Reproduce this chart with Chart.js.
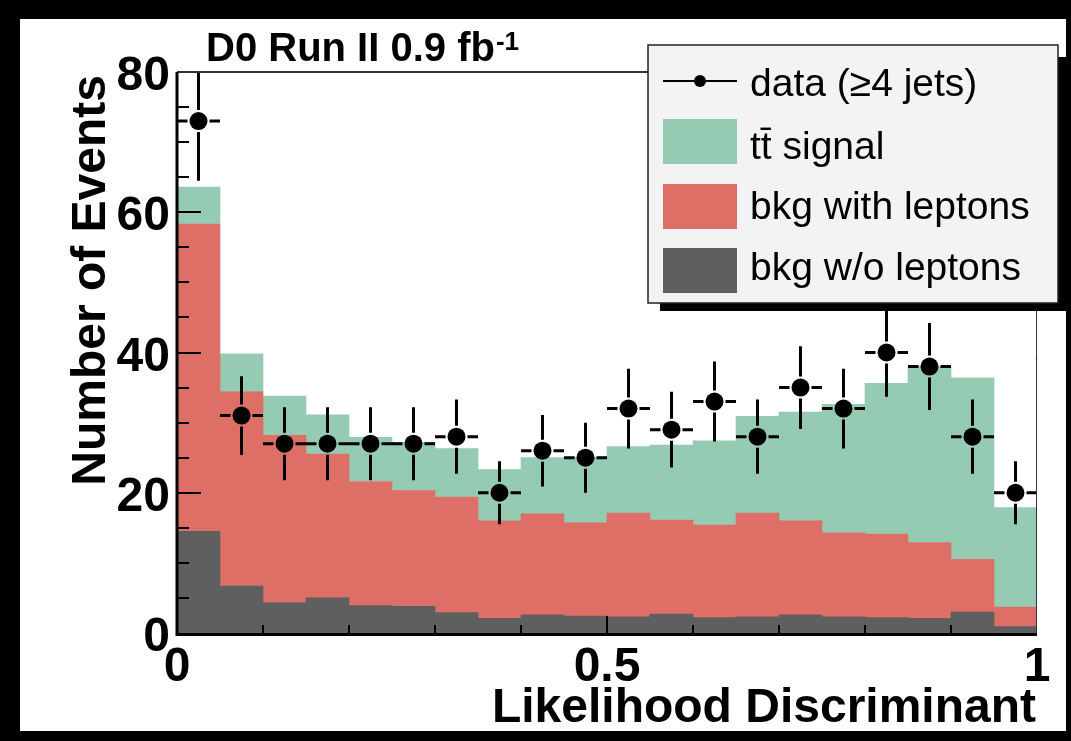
<!DOCTYPE html>
<html>
<head>
<meta charset="utf-8">
<script src="https://cdn.jsdelivr.net/npm/chart.js@4"></script>
<style>
  html, body { margin: 0; padding: 0; background: #000; }
  #frame { position: absolute; left: 20px; top: 19px; width: 1046px; height: 712px; background: #fff; }
</style>
</head>
<body>
<div id="frame"><canvas id="myChart"></canvas></div>
<script>
// bin centres of the likelihood discriminant (20 bins of 0.05)
const binCenters = [0.025, 0.075, 0.125, 0.175, 0.225, 0.275, 0.325, 0.375, 0.425, 0.475,
                    0.525, 0.575, 0.625, 0.675, 0.725, 0.775, 0.825, 0.875, 0.925, 0.975];
const dataCounts = [73, 31, 27, 27, 27, 27, 28, 20, 26, 25, 32, 29, 33, 28, 35, 32, 40, 38, 28, 20];
const dataErr = [8.5, 5.6, 5.2, 5.2, 5.2, 5.2, 5.3, 4.5, 5.1, 5.0, 5.7, 5.4, 5.7, 5.3, 5.9, 5.7, 6.3, 6.2, 5.3, 4.5];
const bkgNoLep = [14.5, 6.7, 4.3, 5.0, 3.9, 3.8, 2.9, 2.1, 2.6, 2.4, 2.3, 2.7, 2.2, 2.3, 2.6, 2.3, 2.2, 2.1, 3.0, 0.9];
const bkgLep = [43.8, 27.7, 23.9, 20.5, 17.7, 16.5, 16.5, 13.9, 14.4, 13.3, 14.8, 13.4, 13.2, 14.8, 13.4, 12.0, 11.9, 10.8, 7.5, 2.8];
const ttSignal = [5.3, 5.4, 5.6, 5.6, 6.3, 6.9, 6.9, 7.3, 8.0, 9.4, 9.5, 10.7, 12.0, 13.8, 15.5, 18.3, 21.5, 25.1, 25.9, 14.2];
const xTickLabels = {0: '0', 0.5: '0.5', 1: '1'};

const labels = ['data (\u22654 jets)', 'tt\u0304 signal', 'bkg with leptons', 'bkg w/o leptons'];
const colors = ['#000000', '#96cbb3', '#dd6f67', '#5f5f5f'];

const FONT = "'Liberation Sans', Arial, Helvetica, sans-serif";

function pts(vals) {
  return vals.map(function(v, i) { return {x: binCenters[i], y: v}; });
}

// ROOT-like frame, ticks, error bars, titles and legend
const rootStyle = {
  id: 'rootStyle',
  afterDatasetsDraw(chart) {
    const ctx = chart.ctx, a = chart.chartArea, x = chart.scales.x, y = chart.scales.y;
    const meta = chart.getDatasetMeta(0);
    const half = (x.getPixelForValue(0.05) - x.getPixelForValue(0)) / 2;
    const gap = 11;

    ctx.save();
    ctx.beginPath();
    ctx.rect(a.left, a.top, a.right - a.left, a.bottom - a.top);
    ctx.clip();
    ctx.strokeStyle = '#000';
    ctx.lineWidth = 3;
    meta.data.forEach(function(pt, i) {
      const px = pt.x, py = pt.y;
      const yHi = y.getPixelForValue(dataCounts[i] + dataErr[i]);
      const yLo = y.getPixelForValue(dataCounts[i] - dataErr[i]);
      ctx.beginPath();
      ctx.moveTo(px, yHi); ctx.lineTo(px, py - gap);
      ctx.moveTo(px, py + gap); ctx.lineTo(px, yLo);
      ctx.moveTo(px - half, py); ctx.lineTo(px - gap, py);
      ctx.moveTo(px + gap, py); ctx.lineTo(px + half, py);
      ctx.stroke();
    });
    ctx.restore();

    ctx.save();
    // frame
    ctx.strokeStyle = '#333';
    ctx.lineWidth = 2;
    ctx.beginPath(); ctx.moveTo(a.left, a.top); ctx.lineTo(a.right, a.top); ctx.stroke();
    ctx.lineWidth = 1;
    ctx.beginPath(); ctx.moveTo(a.right - 0.5, a.top); ctx.lineTo(a.right - 0.5, a.bottom); ctx.stroke();
    ctx.strokeStyle = '#000';
    ctx.lineWidth = 3;
    ctx.beginPath(); ctx.moveTo(a.left, a.top); ctx.lineTo(a.left, a.bottom + 1.5); ctx.lineTo(a.right, a.bottom + 1.5); ctx.stroke();

    // ticks
    ctx.lineWidth = 2;
    ctx.beginPath();
    for (let v = 5; v < 80; v += 5) {
      const py = Math.round(y.getPixelForValue(v));
      const len = (v % 20 === 0) ? 24 : 12;
      ctx.moveTo(a.left, py); ctx.lineTo(a.left + len, py);
    }
    for (let k = 1; k < 10; k++) {
      const px = Math.round(x.getPixelForValue(k / 10));
      const len = (k === 5) ? 17 : 8;
      ctx.moveTo(px, a.bottom); ctx.lineTo(px, a.bottom - len);
    }
    ctx.stroke();
    ctx.restore();
  },
  afterDraw(chart) {
    const ctx = chart.ctx, a = chart.chartArea;
    ctx.save();
    ctx.fillStyle = '#000';

    // axis titles
    ctx.font = 'bold 48px ' + FONT;
    ctx.textAlign = 'right';
    ctx.textBaseline = 'alphabetic';
    ctx.fillText('Likelihood Discriminant', a.right - 1, 703);
    ctx.save();
    ctx.translate(85, a.top + 3);
    ctx.rotate(-Math.PI / 2);
    ctx.fillText('Number of Events', 0, 0);
    ctx.restore();

    // title
    ctx.textAlign = 'left';
    ctx.font = 'bold 40px ' + FONT;
    const t = 'D0 Run II 0.9 fb';
    ctx.fillText(t, 186, 42);
    const tw = ctx.measureText(t).width;
    ctx.font = 'bold 26px ' + FONT;
    ctx.fillText('-1', 186 + tw + 1, 31);

    // legend
    const L = 628, T = 26, R = 1038, B = 284;
    ctx.fillStyle = '#000';
    ctx.fillRect(L + 12, T + 12, R - L - 4, B - T - 4);
    ctx.fillStyle = '#f3f3f3';
    ctx.fillRect(L, T, R - L, B - T);
    ctx.strokeStyle = '#222';
    ctx.lineWidth = 1.5;
    ctx.strokeRect(L, T, R - L, B - T);

    const boxX = 643, boxW = 74, textX = 730;
    // data entry
    ctx.strokeStyle = '#000';
    ctx.lineWidth = 2;
    ctx.beginPath(); ctx.moveTo(boxX, 62); ctx.lineTo(boxX + boxW, 62); ctx.stroke();
    ctx.fillStyle = '#000';
    ctx.beginPath(); ctx.arc(boxX + boxW / 2, 62, 6, 0, Math.PI * 2); ctx.fill();
    const boxTops = [100, 165, 229];
    const baselines = [77, 140, 200, 261];
    for (let i = 1; i < 4; i++) {
      ctx.fillStyle = colors[i];
      ctx.fillRect(boxX, boxTops[i - 1], boxW, 45);
    }
    ctx.fillStyle = '#000';
    ctx.font = '39px ' + FONT;
    for (let i = 0; i < 4; i++) {
      ctx.fillText(labels[i], textX, baselines[i]);
    }
    ctx.restore();
  }
};

const ctx = document.getElementById('myChart').getContext('2d');
const myChart = new Chart(ctx, {
  type: 'bar',
  data: {
    datasets: [
      {
        type: 'line',
        label: labels[0],
        data: pts(dataCounts),
        showLine: false,
        pointRadius: 9,
        pointHoverRadius: 9,
        pointBorderWidth: 0,
        backgroundColor: colors[0],
        borderColor: colors[0],
        order: 0
      },
      { label: labels[3], data: pts(bkgNoLep), backgroundColor: colors[3], stack: 'hist', order: 1 },
      { label: labels[2], data: pts(bkgLep), backgroundColor: colors[2], stack: 'hist', order: 1 },
      { label: labels[1], data: pts(ttSignal), backgroundColor: colors[1], stack: 'hist', order: 1 }
    ]
  },
  options: {
    responsive: true,
    maintainAspectRatio: false,
    animation: false,
    events: [],
    layout: { padding: { left: 0, top: 53, right: 29, bottom: 0 } },
    datasets: {
      bar: { barPercentage: 1, categoryPercentage: 1, borderWidth: 0 }
    },
    plugins: { legend: { display: false }, tooltip: { enabled: false } },
    scales: {
      x: {
        type: 'linear',
        min: 0,
        max: 1,
        offset: false,
        stacked: true,
        grid: { display: false, drawTicks: false, offset: false },
        border: { display: false },
        ticks: {
          stepSize: 0.5,
          maxRotation: 0,
          autoSkip: false,
          padding: 6,
          color: '#000',
          font: { family: FONT, size: 48, weight: 'bold' },
          callback: function(v) { return xTickLabels[v]; }
        },
        afterFit(scale) { scale.height = 98; }
      },
      y: {
        min: 0,
        max: 80,
        stacked: true,
        grid: { display: false, drawTicks: false },
        border: { display: false },
        ticks: {
          stepSize: 20,
          padding: 7,
          labelOffset: 5,
          color: '#000',
          font: { family: FONT, size: 48, weight: 'bold' }
        },
        afterFit(scale) { scale.width = 157; }
      }
    }
  },
  plugins: [rootStyle]
});
</script>
</body>
</html>
